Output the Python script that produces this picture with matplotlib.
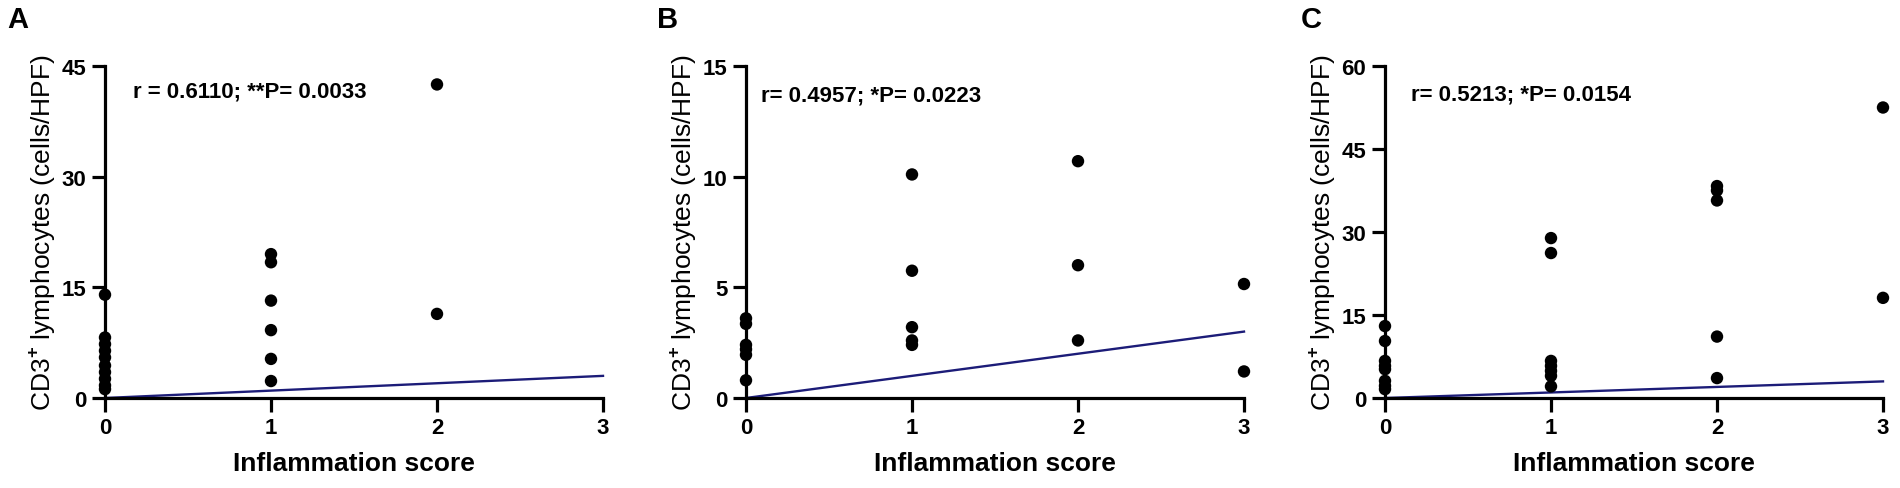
import matplotlib
matplotlib.use('Agg')
import matplotlib.pyplot as plt

plt.rcParams['font.family'] = ['Liberation Sans', 'DejaVu Sans']
plt.rcParams['mathtext.fontset'] = 'custom'
plt.rcParams['mathtext.rm'] = 'Liberation Sans'
plt.rcParams['mathtext.bf'] = 'Liberation Sans:bold'

# inflammation score groups and CD3+ counts
a_x = [0] * 10 + [1] * 6 + [2] * 2
a_y = [14.0, 8.2, 7.3, 6.4, 5.5, 4.4, 3.5, 2.6, 1.7, 1.2,
       19.5, 18.4, 13.2, 9.2, 5.3, 2.3,
       42.5, 11.4]

b_x = [0] * 6 + [1] * 5 + [2] * 3 + [3] * 2
b_y = [3.6, 3.35, 2.4, 2.2, 1.95, 0.8,
       10.1, 5.75, 3.2, 2.6, 2.4,
       10.7, 6.0, 2.6,
       5.15, 1.2]

c_x = [0] * 8 + [1] * 7 + [2] * 5 + [3] * 2
c_y = [13.0, 10.3, 6.7, 5.8, 5.2, 3.1, 2.2, 1.6,
       28.9, 26.2, 6.7, 5.8, 4.9, 4.0, 2.1,
       38.3, 37.5, 35.7, 11.1, 3.6,
       52.5, 18.1]

# fitted line as drawn in the figure
line_x = [0, 3]
line_y = [0, 3]

panels = [
    ('A', a_x, a_y, [0, 15, 30, 45], 'r = 0.6110; **P= 0.0033'),
    ('B', b_x, b_y, [0, 5, 10, 15], 'r= 0.4957; *P= 0.0223'),
    ('C', c_x, c_y, [0, 15, 30, 45, 60], 'r= 0.5213; *P= 0.0154'),
]

fig = plt.figure(figsize=(19, 4.89), dpi=100)
lefts = [105, 746, 1385]
text_pos = [(0.056, 0.925), (0.03, 0.913), (0.052, 0.916)]
letter_x = [7, 657, 1301]

for i, (letter, xs, ys, yt, note) in enumerate(panels):
    ax = fig.add_axes([lefts[i] / 1900, 90 / 489, 498 / 1900, 332 / 489])
    ax.plot(line_x, line_y, color='#1c1c78', lw=1.7, zorder=2, clip_on=False)
    ax.scatter(xs, ys, s=80, color='black', zorder=3, clip_on=False, edgecolors='none')
    ax.set_xlim(0, 3)
    ax.set_ylim(0, yt[-1])
    ax.set_xticks([0, 1, 2, 3])
    ax.set_yticks(yt)
    for side in ['top', 'right']:
        ax.spines[side].set_visible(False)
    for side in ['left', 'bottom']:
        ax.spines[side].set_linewidth(2.3)
        ax.spines[side].set_capstyle('projecting')
    ax.tick_params(axis='x', width=2.3, length=10, labelsize=16, pad=4)
    ax.tick_params(axis='y', width=2.3, length=9.5, labelsize=16, pad=4)
    for lab in ax.get_xticklabels() + ax.get_yticklabels():
        lab.set_fontweight('bold')
    ax.set_xlabel('Inflammation score', fontsize=19, fontweight='bold', labelpad=9)
    ax.set_ylabel(r'CD3$^{\mathbf{+}}$ lymphocytes (cells/HPF)', fontsize=19, labelpad=3)
    ax.text(text_pos[i][0], text_pos[i][1], note, transform=ax.transAxes, fontsize=16,
            fontweight='bold', va='center', ha='left')
    fig.text(letter_x[i] / 1900, 1 - 20 / 489, letter, fontsize=21,
             fontweight='bold', va='center', ha='left')

fig.savefig('out.png', dpi=100)
